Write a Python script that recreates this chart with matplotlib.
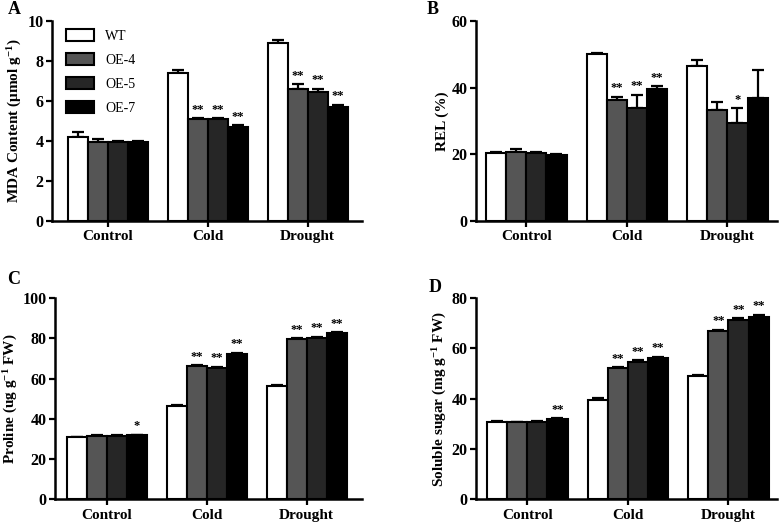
import matplotlib
matplotlib.use("Agg")
import matplotlib.pyplot as plt
import numpy as np

plt.rcParams['font.family'] = ['Liberation Serif', 'DejaVu Serif']
plt.rcParams['font.weight'] = 'bold'
plt.rcParams['mathtext.fontset'] = 'custom'
plt.rcParams['mathtext.rm'] = 'Liberation Serif:bold'
plt.rcParams['mathtext.it'] = 'Liberation Serif:bold'
plt.rcParams['mathtext.bf'] = 'Liberation Serif:bold'

categories = ["Control", "Cold", "Drought"]
genotypes = ["WT", "OE-4", "OE-5", "OE-7"]
colors = ["#ffffff", "#555555", "#262626", "#000000"]

# Panel A: MDA content
mda = {"WT": [4.17, 7.41, 8.91], "OE-4": [3.96, 5.09, 6.58],
       "OE-5": [3.92, 5.09, 6.46], "OE-7": [3.96, 4.69, 5.71]}
mda_err = {"WT": [0.25, 0.12, 0.13], "OE-4": [0.13, 0.05, 0.25],
           "OE-5": [0.05, 0.05, 0.15], "OE-7": [0.05, 0.08, 0.10]}
mda_sig = {"WT": ["", "", ""], "OE-4": ["", "**", "**"],
           "OE-5": ["", "**", "**"], "OE-7": ["", "**", "**"]}

# Panel B: REL
rel = {"WT": [20.3, 50.1, 46.6], "OE-4": [20.7, 36.3, 33.2],
       "OE-5": [20.2, 34.0, 29.5], "OE-7": [19.7, 39.5, 36.9]}
rel_err = {"WT": [0.2, 0.2, 1.7], "OE-4": [0.9, 0.9, 2.4],
           "OE-5": [0.4, 3.8, 4.3], "OE-7": [0.3, 1.0, 8.4]}
rel_sig = {"WT": ["", "", ""], "OE-4": ["", "**", ""],
           "OE-5": ["", "**", "*"], "OE-7": ["", "**", ""]}

# Panel C: Proline
pro = {"WT": [30.8, 46.5, 56.3], "OE-4": [31.4, 66.2, 79.5],
       "OE-5": [31.4, 65.4, 80.0], "OE-7": [31.7, 72.0, 82.6]}
pro_err = {"WT": [0.3, 0.3, 0.6], "OE-4": [0.3, 0.4, 0.4],
           "OE-5": [0.3, 0.4, 0.7], "OE-7": [0.3, 0.8, 0.5]}
pro_sig = {"WT": ["", "", ""], "OE-4": ["", "**", "**"],
           "OE-5": ["", "**", "**"], "OE-7": ["*", "**", "**"]}

# Panel D: Soluble sugar
sug = {"WT": [30.7, 39.5, 48.9], "OE-4": [30.6, 52.1, 67.0],
       "OE-5": [30.9, 54.7, 71.4], "OE-7": [31.8, 56.3, 72.5]}
sug_err = {"WT": [0.3, 0.6, 0.4], "OE-4": [0.2, 0.5, 0.4],
           "OE-5": [0.3, 0.5, 0.6], "OE-7": [0.4, 0.3, 0.8]}
sug_sig = {"WT": ["", "", ""], "OE-4": ["", "**", "**"],
           "OE-5": ["", "**", "**"], "OE-7": ["**", "**", "**"]}

fig = plt.figure(figsize=(7.8, 5.24), dpi=100)

W, H = 780.0, 524.0
def rect(l, r, top, bot):
    return [l / W, 1 - bot / H, (r - l) / W, (bot - top) / H]

panels = [
    (rect(51.7, 361.7, 21, 220.7), mda, mda_err, mda_sig, 10, 2,
     "MDA Content (μmol g$^{-1}$)", "A", (-0.56, 2.54), (14, 10), 0.012),
    (rect(476, 776.7, 21, 220.7), rel, rel_err, rel_sig, 60, 20,
     "REL (%)", "B", (-0.50, 2.49), (433, 10), 0.012),
    (rect(55, 361.7, 298, 499.3), pro, pro_err, pro_sig, 100, 20,
     "Proline (ug g$^{-1}$ FW)", "C", (-0.52, 2.55), (14, 279), 0.012),
    (rect(476, 776.7, 298, 499.3), sug, sug_err, sug_sig, 80, 20,
     "Soluble sugar (mg g$^{-1}$ FW)", "D", (-0.51, 2.48), (435, 287), 0.012),
]

x = np.arange(len(categories))
bw = 0.2
for idx, (r, vals, errs, sigs, ymax, ystep, ylabel, letter, xl, lpos, off) in enumerate(panels):
    ax = fig.add_axes(r)
    for i, g in enumerate(genotypes):
        xs = x + (i - 1.5) * bw
        v = np.array(vals[g]); e = np.array(errs[g])
        ax.bar(xs, v, bw, color=colors[i], edgecolor="black", linewidth=1.5,
               label=g, zorder=2)
        ax.errorbar(xs, v, yerr=[np.zeros_like(e), e], fmt="none", ecolor="black",
                    elinewidth=1.6, capsize=4, capthick=1.6, zorder=1)
        for xx, vv, ee, s in zip(xs, v, e, sigs[g]):
            if s:
                ax.text(xx, vv + ee + ymax * off, s, ha="center", va="bottom",
                        fontsize=9, fontweight="bold")
    ax.set_xlim(*xl)
    ax.set_ylim(0, ymax)
    ax.set_yticks(np.arange(0, ymax + 0.001, ystep))
    ax.set_xticks(x)
    ax.set_xticklabels(categories, fontsize=11, fontweight="bold")
    ax.tick_params(axis="y", labelsize=11.5, width=1.6, length=4, direction="out", pad=2)
    ax.tick_params(axis="x", width=1.6, length=4, direction="out", pad=3)
    for t in ax.get_yticklabels():
        t.set_fontweight("bold")
    ax.spines["top"].set_visible(False)
    ax.spines["right"].set_visible(False)
    ax.spines["left"].set_linewidth(1.8)
    ax.spines["bottom"].set_linewidth(1.8)
    ax.set_ylabel(ylabel, fontsize=11, fontweight="bold", labelpad=2)
    fig.text(lpos[0] / W, 1 - lpos[1] / H, letter, fontsize=13, fontweight="bold",
             ha="center", va="center")
    if idx == 0:
        leg = ax.legend(loc="upper left", bbox_to_anchor=(0.02, 1.0), frameon=False,
                        fontsize=10, handlelength=2.0, handleheight=0.9,
                        labelspacing=0.75, borderaxespad=0.2, handletextpad=0.8)
        for t in leg.get_texts():
            t.set_fontweight("normal")

fig.savefig("out.png", dpi=100)
